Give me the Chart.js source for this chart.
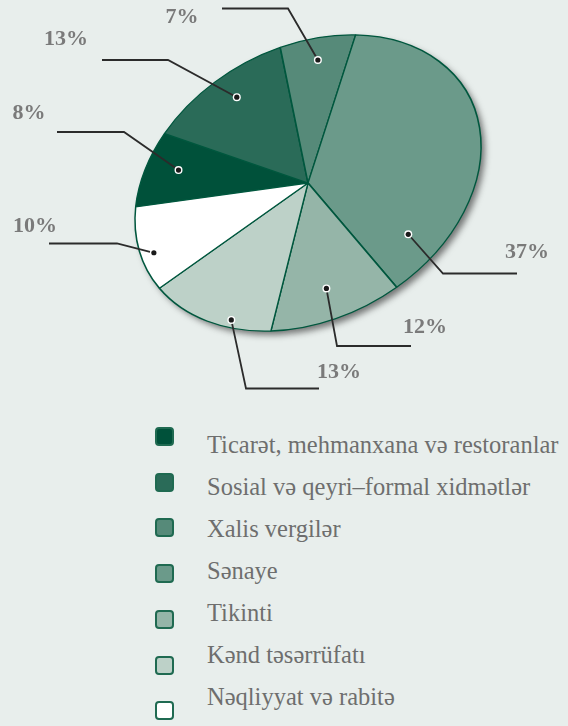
<!DOCTYPE html>
<html>
<head>
<meta charset="utf-8">
<script src="https://cdn.jsdelivr.net/npm/chart.js@4.4.1/dist/chart.umd.min.js"></script>
<style>
    html, body { margin: 0; padding: 0; background: #e8eeec; }
    #wrap { position: relative; width: 568px; height: 726px; overflow: hidden; }
    #chart-box { position: absolute; left: 0; top: 0; width: 568px; height: 400px; }
    #legend { position: absolute; left: 0; top: 0; margin: 0; padding: 0; list-style: none; }
    #legend .mark {
        position: absolute; left: 155px; width: 15px; height: 15px;
        border: 2px solid #1f6a51; border-radius: 4px;
    }
    #legend .text {
        position: absolute; left: 207px; height: 42px; line-height: 42px;
        font-family: 'Liberation Serif', 'Times New Roman', serif;
        font-size: 24.5px; color: #6e6e6e; white-space: nowrap;
    }
</style>
</head>
<body>
<div id="wrap">
    <div id="chart-box"><canvas id="pie"></canvas></div>
    <ul id="legend"></ul>
</div>
<script>
'use strict';

// данные диаграммы (по часовой стрелке, как в легенде)
const categories = [
    'Ticarət, mehmanxana və restoranlar',
    'Sosial və qeyri–formal xidmətlər',
    'Xalis vergilər',
    'Sənaye',
    'Tikinti',
    'Kənd təsərrüfatı',
    'Nəqliyyat və rabitə',
];
const shares = [8, 13, 7, 37, 12, 13, 10];
const shareLabels = ['8%', '13%', '7%', '37%', '12%', '13%', '10%'];
const sliceColors = ['#00513a', '#2a6b58', '#568a79', '#6b9a8a', '#95b5a8', '#bdd1c8', '#ffffff'];

// наклон и сжатие круга в эллипс
const TILT = -29 * Math.PI / 180;
const SQUASH = 0.741;

// выноски: точка в секторе (доля угла, доля радиуса), излом, конец полки, подпись (центр, базовая линия)
const callouts = [
    { t: 0.54, r: 0.80, elbow: [124, 132], end: 57, label: [29, 119] },
    { t: 0.55, r: 0.816, elbow: [168, 60], end: 102, label: [66, 45] },
    { t: 0.52, r: 0.845, elbow: [288, 8.5], end: 222, label: [182, 23] },
    { t: 0.865, r: 0.77, elbow: [443, 273.5], end: 517, label: [527, 258] },
    { t: 0.53, r: 0.77, elbow: [337, 346], end: 411, label: [425, 333] },
    { t: 0.33, r: 0.95, elbow: [246, 388.5], end: 319, label: [339, 378] },
    { t: 0.41, r: 0.927, elbow: [117, 243.5], end: 49, label: [35, 232] },
];

function toScreen(arc, angle, rf) {
    let px = Math.cos(angle) * arc.outerRadius * rf;
    let py = Math.sin(angle) * arc.outerRadius * rf * SQUASH;
    return [
        arc.x + px * Math.cos(TILT) - py * Math.sin(TILT),
        arc.y + px * Math.sin(TILT) + py * Math.cos(TILT),
    ];
}

const ellipsePlugin = {
    id: 'ellipse',
    beforeDatasetsDraw(chart) {
        const ctx = chart.ctx;
        const arc = chart.getDatasetMeta(0).data[0];
        ctx.save();
        ctx.translate(arc.x, arc.y);
        ctx.rotate(TILT);
        ctx.scale(1, SQUASH);
        ctx.translate(-arc.x, -arc.y);
        // тень под эллипсом
        ctx.save();
        ctx.shadowColor = 'rgba(40, 40, 40, 0.6)';
        ctx.shadowBlur = 6;
        ctx.shadowOffsetX = 4;
        ctx.shadowOffsetY = 4;
        ctx.beginPath();
        ctx.arc(arc.x, arc.y, arc.outerRadius, 0, Math.PI * 2);
        ctx.fillStyle = '#6b9a8a';
        ctx.fill();
        ctx.restore();
    },
    afterDatasetsDraw(chart) {
        const ctx = chart.ctx;
        ctx.restore();
        const arcs = chart.getDatasetMeta(0).data;
        arcs.forEach((arc, i) => {
            const c = callouts[i];
            const ang = arc.startAngle + (arc.endAngle - arc.startAngle) * c.t;
            const [dx, dy] = toScreen(arc, ang, c.r);
            ctx.save();
            ctx.strokeStyle = '#2b2b2b';
            ctx.lineWidth = 1.8;
            ctx.beginPath();
            ctx.moveTo(dx, dy);
            ctx.lineTo(c.elbow[0], c.elbow[1]);
            ctx.lineTo(c.end, c.elbow[1]);
            ctx.stroke();
            ctx.beginPath();
            ctx.arc(dx, dy, 4, 0, Math.PI * 2);
            ctx.fillStyle = '#ffffff';
            ctx.fill();
            ctx.beginPath();
            ctx.arc(dx, dy, 2.6, 0, Math.PI * 2);
            ctx.fillStyle = '#1a1a1a';
            ctx.fill();
            ctx.font = 'bold 22px "Liberation Serif", "Times New Roman", serif';
            ctx.fillStyle = '#7a7a7a';
            ctx.textAlign = 'center';
            ctx.textBaseline = 'alphabetic';
            ctx.fillText(shareLabels[i], c.label[0], c.label[1]);
            ctx.restore();
        });
    },
};

const htmlLegendPlugin = {
    id: 'htmlLegend',
    afterUpdate(chart) {
        const ul = document.getElementById('legend');
        ul.innerHTML = '';
        const items = chart.options.plugins.legend.labels.generateLabels(chart);
        items.forEach((item, i) => {
            const li = document.createElement('li');
            const mark = document.createElement('span');
            mark.className = 'mark';
            mark.style.top = (427 + i * 45.7) + 'px';
            mark.style.background = item.fillStyle;
            const text = document.createElement('span');
            text.className = 'text';
            text.style.top = (424 + i * 42) + 'px';
            text.textContent = item.text;
            li.appendChild(mark);
            li.appendChild(text);
            ul.appendChild(li);
        });
    },
};

const ctx = document.getElementById('pie').getContext('2d');
new Chart(ctx, {
    type: 'pie',
    data: {
        labels: categories,
        datasets: [
            {
                data: shares,
                backgroundColor: sliceColors,
                borderColor: '#00573e',
                borderWidth: 1.6,
                hoverOffset: 0,
                clip: false,
            },
        ],
    },
    options: {
        responsive: true,
        maintainAspectRatio: false,
        animation: false,
        rotation: 297.5,
        radius: 183,
        layout: { padding: { left: 125, right: 77, top: 0, bottom: 34 } },
        plugins: {
            legend: { display: false },
            tooltip: { enabled: false },
        },
        events: [],
    },
    plugins: [ellipsePlugin, htmlLegendPlugin],
});
</script>
</body>
</html>
